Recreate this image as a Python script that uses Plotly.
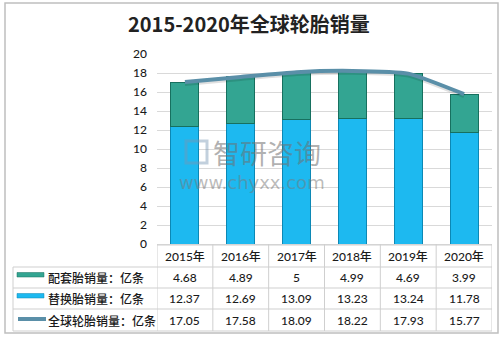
import plotly.graph_objects as go

years = ["2015年", "2016年", "2017年", "2018年", "2019年", "2020年"]
oe_sales = [4.68, 4.89, 5, 4.99, 4.69, 3.99]          # 配套胎销量
rep_sales = [12.37, 12.69, 13.09, 13.23, 13.24, 11.78]  # 替换胎销量
total_sales = [17.05, 17.58, 18.09, 18.22, 17.93, 15.77]  # 全球轮胎销量
series_names = ["配套胎销量：亿条", "替换胎销量：亿条", "全球轮胎销量：亿条"]
y_ticks = [0, 2, 4, 6, 8, 10, 12, 14, 16, 18, 20]
title_text = "2015-2020年全球轮胎销量"

W, H = 504, 337
L, R, T, B = 157, 492, 54, 244  # plot area in pixels


def px(x):
    return (x - L) / (R - L)


def py(y):
    return (B - y) / (B - T)


C_REP = "#1DB9F0"
C_OE = "#33A592"
C_LINE = "#5A8FA8"
GRID = "#D9D9D9"
TXT = "#1A1A1A"
NUMFONT = "Lato, Noto Sans CJK SC, sans-serif"
CJK = "Noto Sans CJK SC, sans-serif"

xs = list(range(len(years)))

fig = go.Figure()
fig.add_trace(go.Bar(x=xs, y=rep_sales, name=series_names[1], width=0.5,
                     marker=dict(color=C_REP, line=dict(color="#0C88B5", width=1))))
fig.add_trace(go.Bar(x=xs, y=oe_sales, name=series_names[0], width=0.5,
                     marker=dict(color=C_OE, line=dict(color="#17705F", width=1))))
# shadow of line
fig.add_trace(go.Scatter(x=xs, y=[v - 0.2 for v in total_sales], mode="lines",
                         line=dict(color="rgba(0,0,0,0.12)", width=4, shape="spline", smoothing=0.5),
                         hoverinfo="skip"))
fig.add_trace(go.Scatter(x=xs, y=total_sales, mode="lines", name=series_names[2],
                         line=dict(color=C_LINE, width=4, shape="spline", smoothing=0.5)))

shapes = []
ann = []

# outer border
shapes.append(dict(type="rect", xref="paper", yref="paper", x0=px(5), x1=px(498), y0=py(3), y1=py(333),
                   line=dict(color="#BFBFBF", width=1.5), fillcolor="rgba(0,0,0,0)", layer="below"))

# table lines
tl = "#CFCFCF"
shapes.append(dict(type="line", xref="paper", yref="paper", x0=px(157), x1=px(492), y0=py(245), y1=py(245),
                   line=dict(color=tl, width=1)))
for yy in [267, 288, 309, 331]:
    shapes.append(dict(type="line", xref="paper", yref="paper", x0=px(13), x1=px(492), y0=py(yy), y1=py(yy),
                       line=dict(color=tl, width=1)))
for i in range(len(years) + 1):
    shapes.append(dict(type="line", xref="x", yref="paper", x0=i - 0.5, x1=i - 0.5, y0=py(244), y1=py(331),
                       line=dict(color=tl, width=1)))
shapes.append(dict(type="line", xref="paper", yref="paper", x0=px(13), x1=px(13), y0=py(267), y1=py(331),
                   line=dict(color=tl, width=1)))

# legend keys
shapes.append(dict(type="rect", xref="paper", yref="paper", x0=px(17), x1=px(44), y0=py(272.5), y1=py(277),
                   fillcolor=C_OE, line=dict(color="#17705F", width=0.5)))
shapes.append(dict(type="rect", xref="paper", yref="paper", x0=px(17), x1=px(44), y0=py(293.5), y1=py(298),
                   fillcolor=C_REP, line=dict(color="#0C88B5", width=0.5)))
shapes.append(dict(type="line", xref="paper", yref="paper", x0=px(18), x1=px(46), y0=py(319), y1=py(319),
                   line=dict(color=C_LINE, width=4)))

# header years
for i, yr in enumerate(years):
    ann.append(dict(x=i, y=py(256), xref="x", yref="paper", text=yr, showarrow=False,
                    font=dict(family=NUMFONT, size=12, color=TXT, weight=500),
                    xanchor="center", yanchor="middle"))

row_y = [277, 298, 320]
rows = [oe_sales, rep_sales, total_sales]
for r, (vals, name) in enumerate(zip(rows, series_names)):
    ann.append(dict(x=px(46), y=py(row_y[r]), xref="paper", yref="paper", text=name, showarrow=False,
                    font=dict(family=CJK, size=12, color=TXT, weight=500), xanchor="left", yanchor="middle"))
    for i, v in enumerate(vals):
        ann.append(dict(x=i, y=py(row_y[r]), xref="x", yref="paper", text=f"{v:g}", showarrow=False,
                        font=dict(family=NUMFONT, size=12, color=TXT, weight=500),
                        xanchor="center", yanchor="middle"))

# title
ann.append(dict(x=px(249), y=py(24), xref="paper", yref="paper", text="<b>" + title_text + "</b>",
                showarrow=False, font=dict(family=CJK, size=20, color="#222222"),
                xanchor="center", yanchor="middle"))

# watermark
ann.append(dict(x=px(267), y=py(152), xref="paper", yref="paper", text="智研咨询", showarrow=False,
                font=dict(family=CJK, size=27, color="rgba(110,110,110,0.55)"), xanchor="center", yanchor="middle"))
ann.append(dict(x=px(252), y=py(182), xref="paper", yref="paper", text="www.chyxx.com", showarrow=False,
                font=dict(family="DejaVu Sans, sans-serif", size=18, color="rgba(120,120,120,0.5)"),
                xanchor="center", yanchor="middle"))
shapes.append(dict(type="rect", xref="paper", yref="paper", x0=px(186), x1=px(207), y0=py(141), y1=py(163),
                   line=dict(color="rgba(120,150,180,0.45)", width=3), fillcolor="rgba(0,0,0,0)"))

fig.update_layout(
    width=W, height=H,
    margin=dict(l=L, r=W - R, t=T, b=H - B),
    barmode="stack", bargap=0.5,
    showlegend=False,
    paper_bgcolor="white", plot_bgcolor="white",
    shapes=shapes, annotations=ann,
    xaxis=dict(range=[-0.5, len(years) - 0.5], showticklabels=False, showgrid=False, zeroline=False,
               showline=True, linecolor=GRID, linewidth=1, fixedrange=True),
    yaxis=dict(range=[0, 20], tickvals=y_ticks, showgrid=True, gridcolor=GRID, gridwidth=1,
               zeroline=False, showline=False, ticks="", ticklabelstandoff=9,
               tickfont=dict(family=NUMFONT, size=12, color=TXT, weight=500), fixedrange=True),
)

fig.write_html("out.html")
